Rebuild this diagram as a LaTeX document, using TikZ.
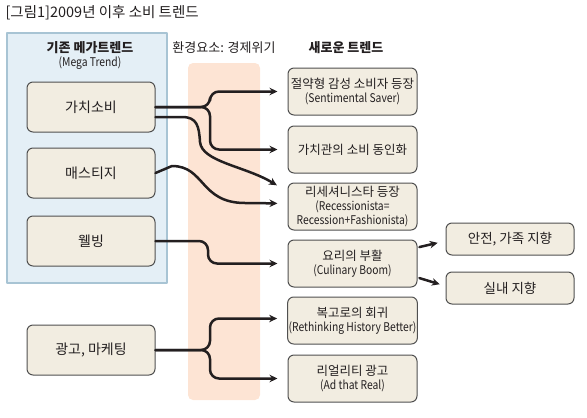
\documentclass[tikz,border=0pt]{standalone}
\usepackage{fontspec}
\setmainfont{Noto Sans CJK KR}
\newfontfamily\condfont{Noto Sans CJK KR}[FakeStretch=0.86]
\usetikzlibrary{arrows.meta,positioning}
\definecolor{ink}{HTML}{231F20}
\definecolor{boxfill}{HTML}{F2EDE1}
\definecolor{boxline}{HTML}{505050}
\definecolor{panelfill}{HTML}{E4EFF6}
\definecolor{panelline}{HTML}{A8C4D4}
\definecolor{bandfill}{HTML}{FDE4D4}
\newcommand\trendfont{\fontsize{12.5}{15}\selectfont}
\newcommand\notefont{\condfont\fontsize{12}{13.5}\selectfont}
\begin{document}
\begin{tikzpicture}[x=1pt,y=-1pt,>={Stealth[length=8pt,width=7.5pt]},
    line cap=round,line join=round,
    trend/.style={draw=boxline,fill=boxfill,rounded corners=6pt,line width=1pt,
      align=center,text=ink,inner sep=1pt,font=\trendfont},
    oldtrend/.style={trend,minimum width=128pt,minimum height=50pt,
      font=\fontsize{14}{16}\selectfont},
    newtrend/.style={trend,minimum width=129pt,minimum height=47pt},
    sidetrend/.style={trend,minimum width=128pt,minimum height=32pt,
      font=\fontsize{13.5}{16}\selectfont},
    header/.style={text=ink,align=center,font=\fontsize{13}{16}\selectfont},
    flow/.style={->,line width=2.5pt,draw=ink,shorten >=10pt},
    elbow/.style={flow,rounded corners=9pt}]
    \useasboundingbox (0,0) rectangle (587,418);
    % Background panels: existing trends and the economic-crisis band.
    \fill[panelfill,draw=panelline,line width=1.6pt] (7,33) rectangle (167,283);
    \fill[bandfill,rounded corners=5pt] (188,63) rectangle (260,400);
    \node[header,anchor=west,font=\fontsize{14.5}{16}\selectfont] (title) at (2,13)
      {[그림1]2009년 이후 소비 트렌드};
    \node[header] (oldhead) at (90,56)
      {\textbf{기존 메가트렌드}\\[-2pt]{\notefont (Mega Trend)}};
    \node[header] (bandhead) at (224,48) {환경요소: 경제위기};
    \node[header] (newhead) at (346,48) {\textbf{새로운 트렌드}};
    % Existing mega trends.
    \node[oldtrend] (value) at (91,107) {가치소비};
    \node[oldtrend] (masstige) at (91,173) {매스티지};
    \node[oldtrend] (wellbeing) at (91,241) {웰빙};
    \node[oldtrend] (ads) at (91,350) {광고, 마케팅};
    % New trends.
    \node[newtrend] (saver) at (352.5,91.5)
      {절약형 감성 소비자 등장\\[-1pt]{\notefont (Sentimental Saver)}};
    \node[newtrend] (sync) at (352.5,149.5) {가치관의 소비 동인화};
    \node[newtrend] (recession) at (352.5,206.5)
      {리세셔니스타 등장\\[-1pt]{\notefont (Recessionista=}\\[-1pt]
       {\notefont Recession+Fashionista)}};
    \node[newtrend] (culinary) at (352.5,263.5)
      {요리의 부활\\[-1pt]{\notefont (Culinary Boom)}};
    \node[newtrend] (retro) at (352.5,320.5)
      {복고로의 회귀\\[-1pt]{\notefont (Rethinking History Better)}};
    \node[newtrend] (real) at (352.5,378.5)
      {리얼리티 광고\\[-1pt]{\notefont (Ad that Real)}};
    \node[sidetrend] (family) at (510,239) {안전, 가족 지향};
    \node[sidetrend] (indoor) at (510,288) {실내 지향};
    % Connectors through the crisis band.
    \coordinate (valuefork) at (210,107);
    \coordinate (adsfork) at (210,350);
    \draw[elbow] (value.east) -- (valuefork) |- (saver.west);
    \draw[elbow] (value.east) -- (valuefork) |- (sync.west);
    \draw[flow] ([yshift=-10pt]value.east) -- (182,117)
      .. controls (197,117) and (199,126) .. (200,142)
      .. controls (202,162) and (245,166) .. ([xshift=-2pt,yshift=-8pt]recession.north west);
    \draw[flow] (masstige.east) -- (172,166)
      .. controls (205,166) and (200,203) .. (245,203)
      -- ([yshift=3pt]recession.west);
    \draw[elbow] (wellbeing.east) -- (208,241) |- (culinary.west);
    \draw[elbow] (ads.east) -- (adsfork) |- ([yshift=2pt]retro.west);
    \draw[elbow] (ads.east) -- (adsfork) |- (real.west);
    \draw[flow,shorten >=8pt,shorten <=2pt] ([yshift=16pt]culinary.east)
      -- ([yshift=-2pt]family.west);
    \draw[flow,shorten >=6pt,shorten <=2pt] ([yshift=-14pt]culinary.east)
      -- ([yshift=2pt]indoor.west);
  \end{tikzpicture}
\end{document}
